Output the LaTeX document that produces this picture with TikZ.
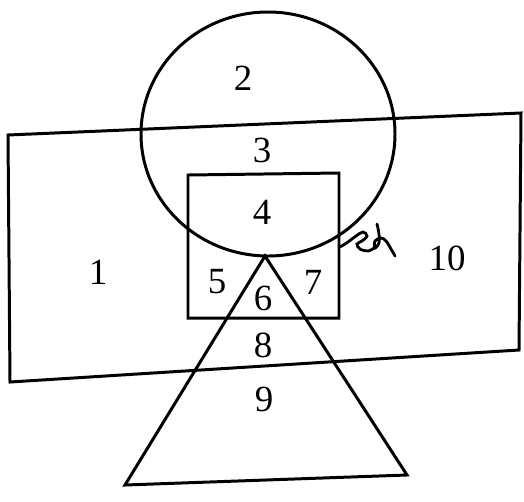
\documentclass[tikz,border=0pt]{standalone}
\usepackage{fontspec}
\setmainfont{Liberation Serif}

\begin{document}
\begin{tikzpicture}[x=0.02cm, y=-0.02cm, line width=1.7pt,
    region/.style={font=\fontsize{21}{24}\selectfont, inner sep=0pt}]
    \useasboundingbox (0,0) rectangle (524,501);

    % Outer rectangle (photo is a bit skewed)
    \draw (8,135) -- (521,113) -- (519,350) -- (10,382) -- cycle;

    % Circle on top
    \draw (268,134) ellipse [x radius=127, y radius=122];

    % Inner square
    \draw (188,175) -- (339,173) -- (339,318) -- (188,318) -- cycle;

    % Triangle hanging from the circle
    \draw (265,256) -- (407,475) -- (125,485) -- cycle;

    % Handwritten mark next to the square
    \draw[line width=1.6pt, line cap=round] plot[smooth, tension=0.6] coordinates {
        (340,247) (348,242) (356,236) (363,232) (367,236) (362,241) (357,244) (360,249) (368,251) (374,248)
    };
    \draw[line width=1.6pt, line cap=round] plot[smooth, tension=0.6] coordinates {
        (377,224) (379,234) (379,243) (375,248) (375,241) (381,238) (386,241) (391,249) (395,256)
    };

    % Region numbers
    \node[region] (r1) at (98,272) {1};
    \node[region] (r2) at (243,78) {2};
    \node[region] (r3) at (262,150) {3};
    \node[region] (r4) at (262,212) {4};
    \node[region] (r5) at (217,282) {5};
    \node[region] (r6) at (263,298) {6};
    \node[region] (r7) at (313,282) {7};
    \node[region] (r8) at (263,345) {8};
    \node[region] (r9) at (264,399) {9};
    \node[region] (r10) at (447,258) {10};
\end{tikzpicture}
\end{document}
